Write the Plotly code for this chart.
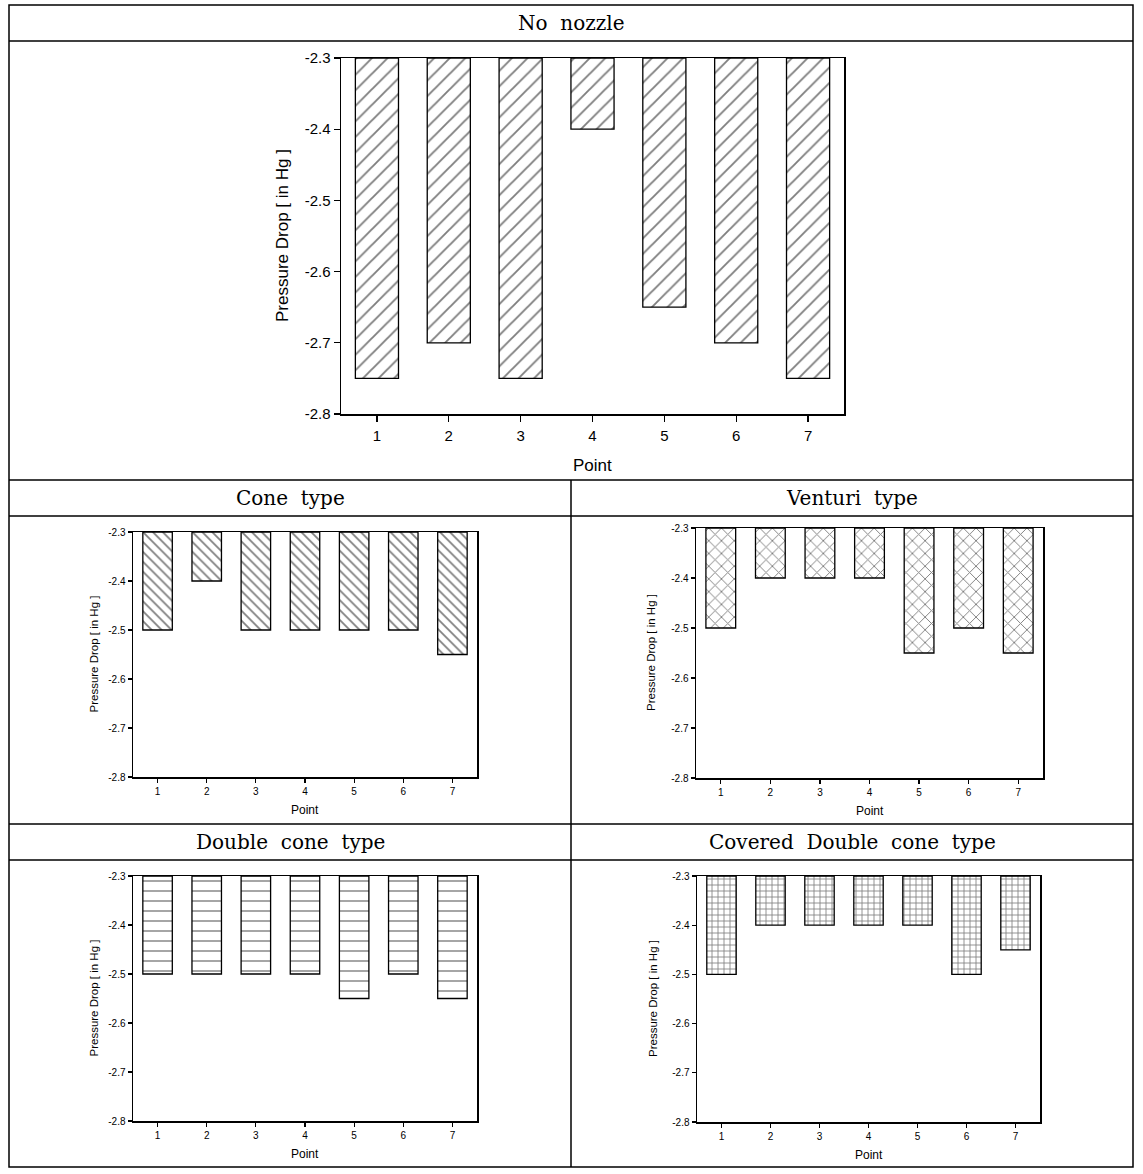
import plotly.graph_objects as go

W, H = 1143, 1174

points = ["1", "2", "3", "4", "5", "6", "7"]
top_value = -2.3
y_ticks = [-2.8, -2.7, -2.6, -2.5, -2.4, -2.3]
y_tick_labels = ["-2.8", "-2.7", "-2.6", "-2.5", "-2.4", "-2.3"]

no_nozzle = [-2.75, -2.70, -2.75, -2.40, -2.65, -2.70, -2.75]
cone = [-2.50, -2.40, -2.50, -2.50, -2.50, -2.50, -2.55]
venturi = [-2.50, -2.40, -2.40, -2.40, -2.55, -2.50, -2.55]
double_cone = [-2.50, -2.50, -2.50, -2.50, -2.55, -2.50, -2.55]
covered_double_cone = [-2.50, -2.40, -2.40, -2.40, -2.40, -2.50, -2.45]

titles = ["No nozzle", "Cone type", "Venturi type", "Double cone type", "Covered Double cone type"]
y_title = "Pressure Drop [ in Hg ]"
x_title = "Point"

def px_x(p):
    return p / W

def px_y(p):
    return 1 - p / H

panels = [
    dict(data=no_nozzle, shape="/", size=11, sol=0.17, box=(341, 844, 58, 414), tick=15, ttl=17, ptl=17, ticklen=6,
         ytx=283, ptx_y=465, layer="above traces", stand=1),
    dict(data=cone, shape="\\", size=7, sol=0.25, box=(133, 477, 532, 777), tick=10, ttl=11.5, ptl=12, ticklen=4,
         ytx=93, ptx_y=810, layer="below traces", stand=0),
    dict(data=venturi, shape="x", size=9, sol=0.2, box=(696, 1043, 528, 778), tick=10, ttl=11.5, ptl=12, ticklen=4,
         ytx=651, ptx_y=811, layer="above traces", stand=0),
    dict(data=double_cone, shape="-", size=10, sol=0.14, box=(133, 477, 876, 1121), tick=10, ttl=11.5, ptl=12, ticklen=4,
         ytx=93, ptx_y=1154, layer="below traces", stand=0),
    dict(data=covered_double_cone, shape="+", size=6, sol=0.26, box=(697, 1040, 876, 1122), tick=10, ttl=11.5, ptl=12, ticklen=4,
         ytx=653, ptx_y=1155, layer="above traces", stand=0),
]

fig = go.Figure()
annotations = []
layout_axes = {}

for i, p in enumerate(panels):
    n = "" if i == 0 else str(i + 1)
    x0, x1, y0, y1 = p["box"]
    fig.add_trace(go.Bar(
        x=[int(v) for v in points],
        y=[v - top_value for v in p["data"]],
        base=[top_value] * len(p["data"]),
        width=0.6,
        marker=dict(
            color="white",
            line=dict(color="black", width=1.3),
            pattern=dict(shape=p["shape"], size=p["size"], solidity=p["sol"],
                         fgcolor="black", bgcolor="white", fillmode="overlay"),
        ),
        xaxis="x" + n, yaxis="y" + n, showlegend=False, hoverinfo="skip",
    ))
    common = dict(
        ticks="outside", ticklen=p["ticklen"], tickcolor="black", tickwidth=1.2,
        showline=True, linecolor="black", linewidth=1.5, mirror=True,
        showgrid=False, zeroline=False, layer=p["layer"], automargin=False,
        tickfont=dict(family="Arial, Liberation Sans", size=p["tick"], color="black"),
        fixedrange=True,
    )
    layout_axes["xaxis" + n] = dict(
        domain=[px_x(x0), px_x(x1)], anchor="y" + n, range=[0.5, 7.5],
        tickmode="array", tickvals=[int(v) for v in points], ticktext=points,
        ticklabelstandoff=p["stand"], **common,
    )
    layout_axes["yaxis" + n] = dict(
        domain=[px_y(y1), px_y(y0)], anchor="x" + n, range=[-2.8, -2.3],
        tickmode="array", tickvals=y_ticks, ticktext=y_tick_labels, **common,
    )
    annotations.append(dict(
        text=y_title, x=px_x(p["ytx"]), y=px_y((y0 + y1) / 2), xref="paper", yref="paper",
        textangle=-90, showarrow=False, xanchor="center", yanchor="middle",
        font=dict(family="Arial, Liberation Sans", size=p["ttl"], color="black"),
    ))
    annotations.append(dict(
        text=x_title, x=px_x((x0 + x1) / 2), y=px_y(p["ptx_y"]), xref="paper", yref="paper",
        showarrow=False, xanchor="center", yanchor="middle",
        font=dict(family="Arial, Liberation Sans", size=p["ptl"], color="black"),
    ))

header_pos = [(571, 23), (290, 498), (852, 498), (290, 842), (852, 842)]
for t, (hx, hy) in zip(titles, header_pos):
    annotations.append(dict(
        text=t.replace(" ", "\u00a0 "), x=px_x(hx), y=px_y(hy), xref="paper", yref="paper",
        showarrow=False, xanchor="center", yanchor="middle",
        font=dict(family="DejaVu Serif", size=20, color="black"),
    ))

line = dict(color="black", width=1.5)
shapes = [dict(type="rect", xref="paper", yref="paper", x0=px_x(9), x1=px_x(1133),
               y0=px_y(1167), y1=px_y(5), line=line)]
for yy in [41, 480, 516, 824, 860]:
    shapes.append(dict(type="line", xref="paper", yref="paper", x0=px_x(9), x1=px_x(1133),
                       y0=px_y(yy), y1=px_y(yy), line=line))
shapes.append(dict(type="line", xref="paper", yref="paper", x0=px_x(571), x1=px_x(571),
                   y0=px_y(1167), y1=px_y(480), line=line))

fig.update_layout(
    width=W, height=H,
    margin=dict(l=0, r=0, t=0, b=0, pad=0, autoexpand=False),
    paper_bgcolor="white", plot_bgcolor="white",
    annotations=annotations, shapes=shapes, bargap=0.4, showlegend=False,
    **layout_axes,
)

fig.write_html(
    "out.html",
    config={"displayModeBar": False, "staticPlot": True},
    post_script=(
        "document.body.style.margin='0px';"
        "document.documentElement.style.overflow='hidden';"
        "var d=document.getElementById('{plot_id}');"
        "d.style.position='fixed';d.style.top='0px';d.style.left='0px';"
    ),
)
